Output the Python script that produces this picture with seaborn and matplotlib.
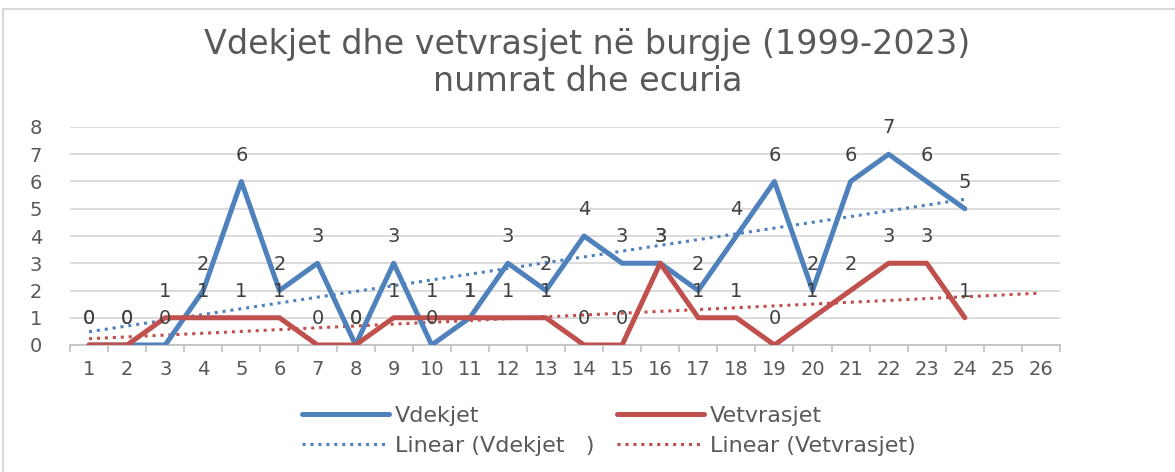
import numpy as np
import pandas as pd
import matplotlib
matplotlib.use("Agg")
import matplotlib.pyplot as plt
from matplotlib.patches import Rectangle
import seaborn as sns

# data
periods = list(range(1, 25))
vdekjet = [0, 0, 0, 2, 6, 2, 3, 0, 3, 0, 1, 3, 2, 4, 3, 3, 2, 4, 6, 2, 6, 7, 6, 5]
vetvrasjet = [0, 0, 1, 1, 1, 1, 0, 0, 1, 1, 1, 1, 1, 0, 0, 3, 1, 1, 0, 1, 2, 3, 3, 1]
axis_categories = list(range(1, 27))
y_ticks = list(range(0, 9))

title = "Vdekjet dhe vetvrasjet në burgje (1999-2023)\nnumrat dhe ecuria"
BLUE = "#4F81BD"
RED = "#C0504D"
TEXT = "#595959"

sns.set_theme(style="white")
plt.rcParams["font.family"] = ["DejaVu Sans"]

df = pd.DataFrame({"period": periods, "Vdekjet": vdekjet, "Vetvrasjet": vetvrasjet})

fig = plt.figure(figsize=(11.75, 4.72), dpi=100)
ax = fig.add_axes([70 / 1175, 1 - 345 / 472, 990 / 1175, 218 / 472])

# linear trend lines (Excel style); the suicides trend is forecast 2 periods ahead
x = np.array(periods)
kb = np.polyfit(x, vdekjet, 1)
kr = np.polyfit(x, vetvrasjet, 1)
xb = np.array([1, 24])
xr = np.array([1, 26])
ax.plot(xb, np.polyval(kb, xb), color=BLUE, lw=2.2, ls=(0, (1, 1.6)),
        label="Linear (Vdekjet   )", zorder=3)
ax.plot(xr, np.polyval(kr, xr), color=RED, lw=2.2, ls=(0, (1, 1.6)),
        label="Linear (Vetvrasjet)", zorder=3)

sns.lineplot(data=df, x="period", y="Vdekjet", ax=ax, color=BLUE, lw=3.6,
             label="Vdekjet", zorder=4)
sns.lineplot(data=df, x="period", y="Vetvrasjet", ax=ax, color=RED, lw=3.6,
             label="Vetvrasjet", zorder=4)

# data labels above points
for xi, yb, yr in zip(periods, vdekjet, vetvrasjet):
    for v in (yb, yr):
        ax.annotate(str(v), (xi, v), xytext=(0, 19), textcoords="offset points",
                    ha="center", va="center", fontsize=14, color="#404040",
                    zorder=5)

ax.set_xlim(0.5, 26.5)
ax.set_ylim(0, 8)
ax.set_xticks(axis_categories)
ax.set_xticks(np.arange(0.5, 27, 1), minor=True)
ax.set_yticks(y_ticks)
ax.tick_params(axis="x", which="major", length=0, labelsize=14, colors=TEXT, pad=11)
ax.tick_params(axis="x", which="minor", length=5, width=1.2, color="#BFBFBF",
               direction="out", bottom=True)
ax.tick_params(axis="y", length=0, labelsize=14, colors=TEXT, pad=20)
ax.grid(axis="y", color="#D9D9D9", lw=1.3)
ax.set_axisbelow(True)
for s in ("top", "right", "left"):
    ax.spines[s].set_visible(False)
ax.spines["bottom"].set_color("#BFBFBF")
ax.spines["bottom"].set_linewidth(1.2)
ax.set_xlabel("")
ax.set_ylabel("")

ax.get_legend().remove()
handles, labels = ax.get_legend_handles_labels()
order = [labels.index(n) for n in
         ["Vdekjet", "Linear (Vdekjet   )", "Vetvrasjet", "Linear (Vetvrasjet)"]]
fig.legend([handles[i] for i in order], [labels[i] for i in order],
           ncol=2, loc="center", bbox_to_anchor=(609 / 1175, 1 - 431 / 472),
           frameon=False, fontsize=16, labelcolor=TEXT, handlelength=3.9,
           handletextpad=0.3, columnspacing=1.0, labelspacing=0.45)

fig.text(0.5, 1 - 63 / 472, title, ha="center", va="center", fontsize=24,
         color=TEXT, linespacing=1.12)

fig.patches.append(Rectangle((3 / 1175, -0.05), 1.2, (472 - 9) / 472 + 0.05,
                             transform=fig.transFigure, fill=False,
                             edgecolor="#D9D9D9", lw=1.5))

fig.savefig("out.png", dpi=100)
